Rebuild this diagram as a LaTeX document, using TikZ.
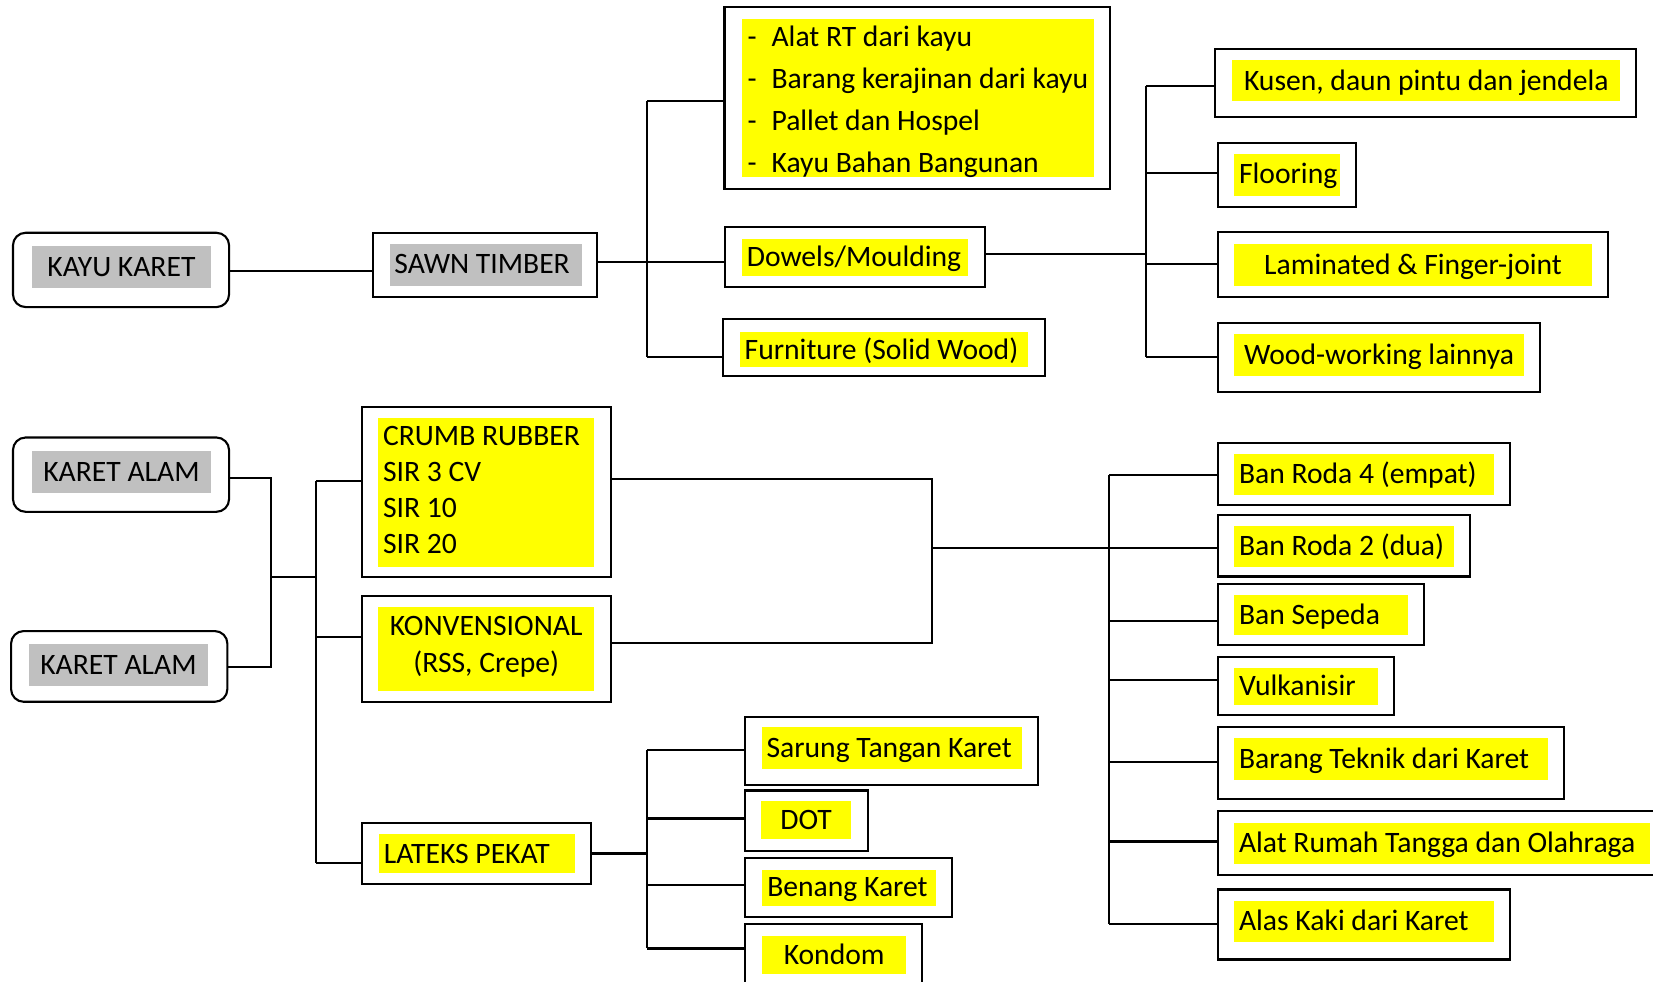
\documentclass[tikz,border=0pt]{standalone}
\usepackage{fontspec}
\setmainfont{Carlito}
\usetikzlibrary{fit,calc}
\definecolor{hlyellow}{RGB}{255,255,0}
\definecolor{hlgray}{RGB}{192,192,192}
\newcommand{\mkbox}[6]{\node[#1,fit={(#3,#4) (#5,#6)}] (#2) {};}
\begin{document}
\begin{tikzpicture}[x=0.5pt,y=-0.5pt,
  obox/.style={draw=black,line width=1pt,inner sep=0pt,fill=white},
  rbox/.style={obox,rounded corners=6pt},
  ybox/.style={fill=hlyellow,draw=none,inner sep=0pt},
  gbox/.style={fill=hlgray,draw=none,inner sep=0pt},
  txt/.style={inner sep=0pt,text height=9.05pt,text depth=0pt,font=\fontsize{14.05}{16}\selectfont},
  conn/.style={line width=1pt}]
\useasboundingbox (0,0) rectangle (1568,931);
\clip (0,0) rectangle (1568,931);

% ---------------- top: KAYU KARET ----------------
\mkbox{rbox}{kk}{12.3}{220.8}{217.3}{291.3}
\mkbox{gbox}{kkh}{30.4}{233.4}{200}{273}
\node[txt] (kkt) at (kkh.center) {KAYU KARET};

\mkbox{obox}{st}{353.4}{220.8}{566.4}{282}
\mkbox{gbox}{sth}{370}{231.5}{552.2}{271.1}
\node[txt,anchor=west] (stt) at (373.7,250.8) {SAWN TIMBER};

\mkbox{obox}{lb}{687.2}{6.9}{1052.5}{179.3}
\mkbox{ybox}{lbh}{703.7}{18}{1038}{168.2}
\node[txt,anchor=west] (lb1) at (708.7,35.5) {\makebox[11.4pt][l]{-}Alat RT dari kayu};
\node[txt,anchor=west] (lb2) at (708.7,75.1) {\makebox[11.4pt][l]{-}Barang kerajinan dari kayu};
\node[txt,anchor=west] (lb3) at (708.7,114.7) {\makebox[11.4pt][l]{-}Pallet dan Hospel};
\node[txt,anchor=west] (lb4) at (708.7,154.3) {\makebox[11.4pt][l]{-}Kayu Bahan Bangunan};

\mkbox{obox}{dw}{687.5}{215}{934}{272}
\mkbox{ybox}{dwh}{704}{227}{918}{262}
\node[txt,anchor=west] (dwt) at (708,244) {Dowels/Moulding};

\mkbox{obox}{fu}{686}{303}{991}{357}
\mkbox{ybox}{fuh}{702}{315}{975}{348}
\node[txt,anchor=west] (fut) at (706,331.5) {Furniture (Solid Wood)};

\mkbox{obox}{ku}{1152.7}{46.5}{1552}{111.3}
\mkbox{ybox}{kuh}{1168.9}{57.2}{1537}{96.1}
\node[txt] (kut) at (kuh.center) {Kusen, daun pintu dan jendela};

\mkbox{obox}{fl}{1155}{135.7}{1286.2}{196.4}
\mkbox{ybox}{flh}{1170.8}{146.1}{1271}{185.7}
\node[txt,anchor=west] (flt) at (1174.9,165) {Flooring};

\mkbox{obox}{la}{1155}{220.4}{1525.3}{282}
\mkbox{ybox}{lah}{1170.8}{231.5}{1510}{271}
\node[txt] (lat) at (lah.center) {Laminated \& Finger-joint};

\mkbox{obox}{ww}{1155}{306.5}{1460.8}{371.6}
\mkbox{ybox}{wwh}{1170.8}{316.9}{1445.6}{356.5}
\node[txt] (wwt) at (wwh.center) {Wood-working lainnya};

% top connectors
\coordinate (jk) at (290,256.8);
\draw[conn] (kk.east |- jk) -- (st.west |- jk);
\coordinate (j1) at (614,248.3);
\coordinate (b1t) at (614,96);
\coordinate (b1b) at (614,339);
\draw[conn] (st.east |- j1) -- (j1);
\draw[conn] (b1t) -- (b1b);
\draw[conn] (b1t) -- (b1t -| lb.west);
\draw[conn] (j1) -- (j1 -| dw.west);
\draw[conn] (b1b) -- (b1b -| fu.west);
\coordinate (j2) at (1087,241);
\coordinate (b2t) at (1087,81.6);
\coordinate (b2f) at (1087,163.9);
\coordinate (b2l) at (1087,250.5);
\coordinate (b2b) at (1087,338.4);
\draw[conn] (dw.east |- j2) -- (j2);
\draw[conn] (b2t) -- (b2b);
\draw[conn] (b2t) -- (b2t -| ku.west);
\draw[conn] (b2f) -- (b2f -| fl.west);
\draw[conn] (b2l) -- (b2l -| la.west);
\draw[conn] (b2b) -- (b2b -| ww.west);

% ---------------- bottom: KARET ALAM ----------------
\mkbox{rbox}{ka1}{12.3}{415}{217.3}{485.5}
\mkbox{gbox}{ka1h}{30.4}{428}{200}{467.4}
\node[txt] (ka1t) at (ka1h.center) {KARET ALAM};

\mkbox{rbox}{ka2}{10.5}{598.6}{215.7}{665.7}
\mkbox{gbox}{ka2h}{27.4}{611.3}{197.3}{650.5}
\node[txt] (ka2t) at (ka2h.center) {KARET ALAM};

\mkbox{obox}{cr}{343.2}{385.8}{579.3}{547.1}
\mkbox{ybox}{crh}{359}{396.9}{563.5}{537.6}
\node[txt,anchor=west] (cr1) at (363,413.6) {CRUMB RUBBER};
\node[txt,anchor=west] (cr2) at (363,447.8) {SIR 3 CV};
\node[txt,anchor=west] (cr3) at (363,482) {SIR 10};
\node[txt,anchor=west] (cr4) at (363,516.2) {SIR 20};

\mkbox{obox}{kv}{343.2}{565.4}{579.3}{665.7}
\mkbox{ybox}{kvh}{359}{576.2}{563.5}{655.6}
\node[txt] (kv1) at (461.2,594) {KONVENSIONAL};
\node[txt] (kv2) at (461.2,628.8) {(RSS, Crepe)};

\mkbox{obox}{lp}{343.7}{780.8}{560.7}{838.4}
\mkbox{ybox}{lph}{359.9}{791.3}{545.5}{828}
\node[txt,anchor=west] (lpt) at (363.7,809.6) {LATEKS PEKAT};

% right column
\mkbox{obox}{r1}{1155}{420.3}{1432.5}{479.1}
\mkbox{ybox}{r1h}{1170.8}{430.7}{1417.5}{469.4}
\node[txt,anchor=west] (r1t) at (1174.9,449.5) {Ban Roda 4 (empat)};

\mkbox{obox}{r2}{1155}{488.6}{1394.4}{546.8}
\mkbox{ybox}{r2h}{1170.8}{499}{1379.3}{537.7}
\node[txt,anchor=west] (r2t) at (1174.9,517.8) {Ban Roda 2 (dua)};

\mkbox{obox}{r3}{1155}{553.8}{1351}{612.2}
\mkbox{ybox}{r3h}{1170.8}{564.5}{1335.9}{602.5}
\node[txt,anchor=west] (r3t) at (1174.9,583) {Ban Sepeda};

\mkbox{obox}{r4}{1155}{623.6}{1322.4}{678.4}
\mkbox{ybox}{r4h}{1170.8}{633.8}{1307}{668.6}
\node[txt,anchor=west] (r4t) at (1174.9,650.7) {Vulkanisir};

\mkbox{obox}{r5}{1155}{690}{1483.7}{758.3}
\mkbox{ybox}{r5h}{1170.8}{700.5}{1468.3}{740}
\node[txt,anchor=west] (r5t) at (1174.9,719.5) {Barang Teknik dari Karet};

\mkbox{obox}{r6}{1155}{769.7}{1585}{830.2}
\mkbox{ybox}{r6h}{1170.8}{780.2}{1565}{819.4}
\node[txt,anchor=west] (r6t) at (1174.9,799.2) {Alat Rumah Tangga dan Olahraga};

\mkbox{obox}{r7}{1155}{843.7}{1432.5}{910.2}
\mkbox{ybox}{r7h}{1170.8}{854.2}{1417.5}{893.4}
\node[txt,anchor=west] (r7t) at (1174.9,873.2) {Alas Kaki dari Karet};

% latex products
\mkbox{obox}{s1}{706.8}{680}{984.5}{744.5}
\mkbox{ybox}{s1h}{723}{690}{969.3}{729.6}
\node[txt,anchor=west] (s1t) at (726.7,709.3) {Sarung Tangan Karet};

\mkbox{obox}{s2}{706.8}{749.8}{823.2}{807.1}
\mkbox{ybox}{s2h}{722}{760}{807.4}{796.3}
\node[txt] (s2t) at (s2h.center) {DOT};

\mkbox{obox}{s3}{706.8}{814}{903}{869.7}
\mkbox{ybox}{s3h}{723}{824.8}{887.8}{859.3}
\node[txt,anchor=west] (s3t) at (727.4,841.5) {Benang Karet};

\mkbox{obox}{s4}{706.8}{876.4}{874.5}{945}
\mkbox{ybox}{s4h}{723}{887.4}{859.6}{923.8}
\node[txt] (s4t) at (s4h.center) {Kondom};

% bottom connectors
\coordinate (a1) at (257.4,453.2);
\coordinate (a2) at (257.4,632.5);
\coordinate (a3) at (257.4,547);
\draw[conn] (ka1.east |- a1) -- (a1) -- (a2) -- (ka2.east |- a2);
\coordinate (c0) at (300,547);
\coordinate (c1) at (300,456.4);
\coordinate (c2) at (300,604.4);
\coordinate (c3) at (300,819);
\draw[conn] (a3) -- (c0);
\draw[conn] (c1) -- (c3);
\draw[conn] (c1) -- (c1 -| cr.west);
\draw[conn] (c2) -- (c2 -| kv.west);
\draw[conn] (c3) -- (c3 -| lp.west);

\coordinate (m1) at (884,454.4);
\coordinate (m2) at (884,610.3);
\coordinate (m0) at (884,519.6);
\draw[conn] (cr.east |- m1) -- (m1) -- (m2) -- (kv.east |- m2);
\coordinate (n0) at (1052,519.6);
\draw[conn] (m0) -- (n0);
\coordinate (n1) at (1052,450.4);
\coordinate (n2) at (1052,519.6);
\coordinate (n3) at (1052,589.2);
\coordinate (n4) at (1052,644.8);
\coordinate (n5) at (1052,722.7);
\coordinate (n6) at (1052,798.2);
\coordinate (n7) at (1052,876.7);
\draw[conn] (n1) -- (n7);
\foreach \i in {1,...,7} {\draw[conn] (n\i) -- (n\i -| r\i.west);}

\coordinate (p0) at (614.1,809.6);
\coordinate (p1) at (614.1,711.6);
\coordinate (p2) at (614.1,776.4);
\coordinate (p3) at (614.1,839.7);
\coordinate (p4) at (614.1,899.7);
\draw[conn] (lp.east |- p0) -- (p0);
\draw[conn] (p1) -- (p4);
\foreach \i in {1,...,4} {\draw[conn] (p\i) -- (p\i -| s\i.west);}
\end{tikzpicture}
\end{document}
